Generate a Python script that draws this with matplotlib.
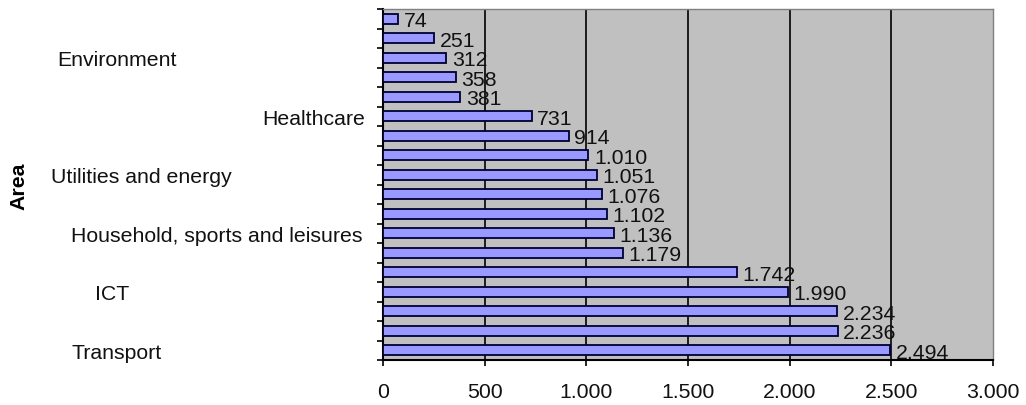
import matplotlib
matplotlib.use("Agg")
import matplotlib.pyplot as plt
from matplotlib.transforms import blended_transform_factory

# bottom to top
values = [2494, 2236, 2234, 1990, 1742, 1179, 1136, 1102, 1076,
          1051, 1010, 914, 731, 381, 358, 312, 251, 74]
categories = ["Transport", "", "", "ICT", "", "",
              "Household, sports and leisures", "", "",
              "Utilities and energy", "", "",
              "Healthcare", "", "", "Environment", "", ""]
xticks = [0, 500, 1000, 1500, 2000, 2500, 3000]

# horizontal centre (figure pixels) of each visible category name
label_x = {"Transport": 117, "ICT": 112,
           "Household, sports and leisures": 217,
           "Utilities and energy": 141, "Healthcare": 314,
           "Environment": 117}

FS = 15.3


def dotted(v):
    return f"{v:,}".replace(",", ".")


plt.rcParams["font.family"] = ["Liberation Sans", "DejaVu Sans"]
W, H = 1026, 406
fig = plt.figure(figsize=(W / 100, H / 100), dpi=100)
ax = fig.add_axes([383 / W, 1 - 361 / H, (993 - 383) / W, (361 - 10) / H])
ax.set_facecolor("#C0C0C0")

pos = list(range(len(values)))
ax.barh(pos, values, height=0.52, color="#9999FF", edgecolor="#000033",
        linewidth=1.3, zorder=3)

for y, v in zip(pos, values):
    ax.annotate(dotted(v), (v, y), xytext=(4, 0), textcoords="offset points",
                ha="left", va="center_baseline", fontsize=FS, color="#111111",
                zorder=4)

ax.set_xlim(0, 3000)
ax.set_ylim(-0.5, len(values) - 0.5)
ax.set_xticks(xticks)
ax.set_xticklabels([dotted(t) for t in xticks], fontsize=FS, color="#111111")
ax.tick_params(axis="x", direction="out", length=4, width=1.2, pad=12)

ax.set_yticks([])
ax.set_yticks([p - 0.5 for p in pos] + [len(values) - 0.5], minor=True)
ax.tick_params(axis="y", which="minor", direction="out", length=4.5,
               width=1.2)

ax.grid(axis="x", color="black", linewidth=1.2, zorder=1)
ax.set_axisbelow(True)
ax.get_xgridlines()[-1].set_visible(False)

for side in ("top", "right"):
    ax.spines[side].set_color("#808080")
    ax.spines[side].set_linewidth(1.0)
for side in ("left", "bottom"):
    ax.spines[side].set_color("black")
    ax.spines[side].set_linewidth(1.5)

trans = blended_transform_factory(fig.transFigure, ax.transData)
for y, name in zip(pos, categories):
    if name:
        ax.text(label_x[name] / W, y, name, transform=trans, ha="center",
                va="center_baseline", fontsize=FS, color="#111111")

fig.text(19 / W, 1 - 186 / H, "Area", rotation=90, ha="center",
         va="center", fontsize=FS, fontweight="bold")

fig.savefig("out.png", dpi=100)
